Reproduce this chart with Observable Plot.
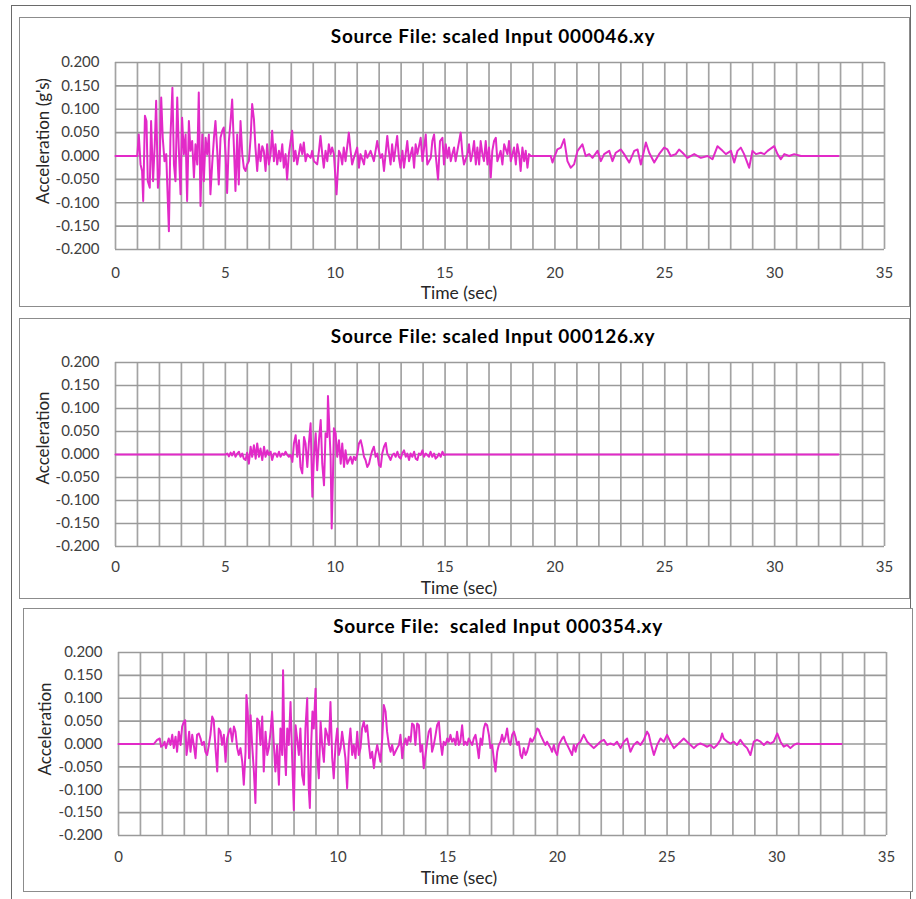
<!DOCTYPE html>
<html>
<head>
<meta charset="utf-8">
<script src="https://cdn.jsdelivr.net/npm/d3@7"></script>
<script src="https://cdn.jsdelivr.net/npm/@observablehq/plot@0.6"></script>
<style>
  html, body { margin: 0; padding: 0; background: #fff; }
  body { width: 916px; height: 899px; position: relative; overflow: hidden; font-family: Lato, "Open Sans", sans-serif; }
  .outer { position: absolute; left: 11px; top: 5px; width: 900px; height: 910px; border: 1px solid #6a6a6a; box-sizing: border-box; }
  .box { position: absolute; border: 1.5px solid #8c8c8c; box-sizing: border-box; background: #fff; }
  .chart { position: absolute; }
  .title { position: absolute; font-weight: bold; font-size: 19px; letter-spacing: 0.7px; line-height: 1; color: #000; transform: translateX(-50%); white-space: pre; }
  .xlab { position: absolute; font-size: 17.5px; line-height: 1; color: #262626; transform: translateX(-50%); white-space: pre; }
  .ylab { position: absolute; font-size: 17px; line-height: 1; color: #262626; transform: translate(-50%, -50%) rotate(-90deg); white-space: pre; }
</style>
</head>
<body>
<div class="outer"></div>
<div id="root"></div>
<script>
// ---------- data (time in sec, acceleration in g) ----------
const titles = ["Source File: scaled Input 000046.xy", "Source File: scaled Input 000126.xy", "Source File:  scaled Input 000354.xy"];
const yTitles = ["Acceleration (g's)", "Acceleration", "Acceleration"];
const xTitle = "Time (sec)";
const xTicks = [0, 5, 10, 15, 20, 25, 30, 35];
const yTicks = [-0.2, -0.15, -0.1, -0.05, 0, 0.05, 0.1, 0.15, 0.2];

const acc046 = [
[0,0],[0.99,0],[1.06,0.046],[1.14,-0.018],[1.21,-0.032],[1.26,-0.096],[1.34,0.086],[1.41,0.075],[1.47,-0.054],[1.56,-0.068],[1.62,0.075],[1.71,-0.054],[1.79,0.029],[1.85,0.118],[1.93,-0.068],[2.00,-0.039],[2.08,0.125],[2.15,0.039],[2.23,-0.011],[2.31,0.004],[2.35,-0.054],[2.43,-0.161],[2.50,0.039],[2.59,0.146],[2.66,-0.018],[2.73,-0.054],[2.81,0.125],[2.88,0.018],[2.96,-0.082],[3.03,0.082],[3.11,0.004],[3.19,0.046],[3.26,-0.096],[3.34,0.075],[3.41,0.011],[3.49,0.032],[3.57,-0.046],[3.64,0.025],[3.72,-0.018],[3.79,0.136],[3.87,-0.107],[3.95,0.046],[4.02,-0.054],[4.10,0.039],[4.17,0.004],[4.25,0.046],[4.32,-0.082],[4.40,-0.018],[4.48,0.039],[4.55,0.075],[4.63,0.011],[4.70,-0.061],[4.78,0.039],[4.86,0.054],[4.93,0.061],[5.01,0.004],[5.08,-0.079],[5.16,0.032],[5.24,0.075],[5.31,0.121],[5.39,0.018],[5.46,-0.075],[5.54,0.046],[5.61,-0.061],[5.69,0.075],[5.77,0.004],[5.84,-0.025],[5.92,-0.032],[5.99,-0.018],[6.07,-0.011],[6.15,0.039],[6.22,0.111],[6.30,0.079],[6.37,0.018],[6.45,-0.032],[6.53,0.025],[6.60,-0.011],[6.68,0.021],[6.75,0.011],[6.83,-0.032],[6.90,0.025],[6.98,-0.018],[7.06,0.004],[7.13,0.054],[7.21,-0.011],[7.28,0.025],[7.36,-0.018],[7.44,0.011],[7.51,-0.011],[7.59,0.025],[7.66,-0.025],[7.74,0.004],[7.81,-0.050],[7.89,0.004],[7.97,0.032],[8.04,0.054],[8.12,-0.011],[8.19,0.011],[8.27,-0.018],[8.42,0.025],[8.50,0.004],[8.57,0.029],[8.65,-0.011],[8.73,0.004],[8.88,-0.004],[8.95,0.011],[9.03,-0.011],[9.18,-0.018],[9.26,0.011],[9.33,0.043],[9.41,0.004],[9.48,-0.025],[9.56,0.011],[9.64,-0.011],[9.71,0.025],[9.79,0.004],[9.86,0.018],[9.94,0.004],[10.06,-0.082],[10.17,0.011],[10.24,0.004],[10.32,-0.018],[10.39,0.018],[10.47,-0.011],[10.62,0.050],[10.70,0.011],[10.77,-0.018],[10.85,-0.004],[11.00,0.018],[11.08,-0.025],[11.15,0.004],[11.31,-0.018],[11.38,0.011],[11.46,-0.004],[11.61,0.011],[11.76,-0.011],[11.91,0.032],[11.99,0.011],[12.06,-0.004],[12.14,0.004],[12.22,-0.032],[12.37,0.043],[12.44,0.011],[12.52,-0.018],[12.59,0.025],[12.67,-0.011],[12.75,0.018],[12.82,0.043],[12.90,-0.004],[12.97,-0.025],
[13.06,0.011],[13.13,-0.025],[13.28,0.032],[13.36,-0.011],[13.51,0.018],[13.59,-0.025],[13.66,0.025],[13.74,0.004],[13.89,0.039],[13.97,-0.011],[14.12,0.046],[14.19,-0.018],[14.35,-0.004],[14.42,0.032],[14.50,0.046],[14.57,0.004],[14.68,-0.050],[14.77,0.032],[14.88,0.039],[14.95,-0.018],[15.03,0.025],[15.11,-0.004],[15.18,0.018],[15.26,-0.011],[15.33,0.004],[15.41,0.018],[15.48,-0.011],[15.56,0.011],[15.71,0.050],[15.79,0.004],[15.86,-0.018],[16.02,0.004],[16.09,0.025],[16.17,-0.011],[16.24,0.004],[16.32,0.032],[16.40,-0.018],[16.47,0.018],[16.55,-0.018],[16.62,0.032],[16.70,0.004],[16.77,-0.011],[16.85,0.032],[16.93,-0.018],[17.00,0.018],[17.08,-0.046],[17.15,0.011],[17.23,0.032],[17.31,0.039],[17.38,-0.011],[17.53,0.011],[17.61,-0.018],[17.69,0.025],[17.84,0.004],[17.91,0.032],[17.99,-0.011],[18.14,0.018],[18.22,-0.018],[18.29,0.025],[18.37,0.004],[18.44,-0.032],[18.52,0.018],[18.60,-0.011],[18.67,0.011],[18.75,-0.025],[18.82,0.004],[18.90,0],[19.81,0],
[19.89,-0.014],[19.96,-0.004],[20.11,0.014],[20.27,0.018],[20.42,0.036],[20.57,-0.011],[20.72,-0.025],[20.87,-0.018],[21.03,0.011],[21.25,0.025],[21.40,0],[21.56,0.004],[21.71,-0.004],[21.94,0.011],[22.09,-0.011],[22.24,0.004],[22.47,0.011],[22.62,-0.011],[22.77,0.007],[23.00,0.014],[23.15,0.004],[23.38,-0.014],[23.61,0.011],[23.76,0.014],[23.91,-0.018],[24.14,0.029],[24.29,0.007],[24.52,-0.014],[24.74,0.004],[24.97,0.018],[25.12,0.014],[25.27,0],[25.50,0.004],[25.65,0.014],[25.81,0.007],[26.03,-0.004],[26.34,0.004],[26.64,-0.004],[26.95,0],[27.17,-0.007],[27.40,0.021],[27.63,0.011],[27.78,0.004],[28.01,0.011],[28.16,-0.014],[28.31,0.011],[28.46,0.018],[28.61,0.004],[28.84,-0.025],[28.99,0.011],[29.15,0.004],[29.37,0.007],[29.53,0.004],[29.68,0.011],[29.98,0.021],[30.13,0.004],[30.28,-0.007],[30.44,0.004],[30.66,0],[30.89,0.004],[31.20,0],[32.90,0]
];

const acc126 = [
[0,0],[5.01,0],[5.09,0.002],[5.16,-0.004],[5.24,0.004],[5.31,-0.002],[5.39,0.006],[5.46,-0.005],[5.54,0.002],[5.62,0.006],[5.69,-0.005],[5.77,0.002],[5.84,-0.009],[5.92,-0.012],[5.99,0.004],[6.07,-0.020],[6.15,0.017],[6.22,-0.005],[6.30,0.020],[6.38,-0.009],[6.45,0.024],[6.53,-0.005],[6.60,0.013],[6.68,-0.012],[6.76,0.017],[6.83,-0.005],[6.91,0.009],[6.98,-0.001],[7.06,0.006],[7.13,-0.012],[7.21,0.002],[7.29,0.002],[7.36,-0.005],[7.44,0.006],[7.51,-0.005],[7.59,0.002],[7.67,-0.001],[7.74,0.006],[7.82,-0.001],[7.89,-0.005],[7.97,-0.001],[8.05,-0.016],[8.12,0.024],[8.20,0.042],[8.27,-0.005],[8.35,0.031],[8.42,-0.027],[8.50,-0.041],[8.58,0.038],[8.65,0.024],[8.73,-0.027],[8.80,0.024],[8.88,0.068],[8.96,-0.092],[9.03,-0.005],[9.11,0.046],[9.18,-0.034],[9.26,0.031],[9.34,0.075],[9.41,-0.020],[9.49,-0.067],[9.56,0.046],[9.64,0.038],[9.67,0.127],[9.79,-0.005],[9.84,-0.161],[9.90,-0.041],[9.94,0.057],[10.02,0.046],[10.09,-0.005],[10.17,0.031],[10.25,-0.020],[10.32,0.024],[10.40,-0.027],[10.47,0.009],[10.55,-0.020],[10.63,-0.012],[10.70,-0.005],[10.78,-0.020],[10.85,-0.005],[10.93,-0.012],[11.01,0.002],[11.08,0.024],[11.16,0.031],[11.23,0.017],[11.31,-0.005],[11.38,-0.012],[11.46,-0.027],[11.54,-0.020],[11.61,-0.005],[11.69,0.009],[11.76,0.017],[11.84,-0.005],[11.92,0.002],[11.99,-0.023],[12.07,-0.027],[12.14,0.002],[12.22,0.017],[12.30,0.025],[12.37,0.002],[12.45,-0.005],[12.52,-0.012],[12.60,-0.001],[12.68,0.002],[12.75,-0.005],[12.83,0.006],[12.90,-0.005],[12.98,-0.009],[13.05,0.002],[13.13,0.009],[13.21,-0.005],[13.28,0.002],[13.36,-0.012],[13.43,0.002],[13.51,-0.005],[13.59,0.006],[13.66,-0.009],[13.74,-0.012],[13.81,0.002],[13.89,-0.001],[13.97,0.009],[14.04,-0.005],[14.12,0.002],[14.19,-0.001],[14.27,-0.005],[14.34,0.006],[14.42,-0.005],[14.50,0.002],[14.57,-0.009],[14.65,-0.005],[14.72,0.002],[14.80,-0.005],[14.88,0.006],[14.95,-0.001],[15.03,0],[32.90,0]
];

const acc354 = [
[0,0],[1.61,0],[1.76,0.009],[1.88,0.012],[1.94,-0.006],[2.04,-0.002],[2.10,0.005],[2.16,-0.009],[2.22,0.001],[2.29,0.012],[2.37,-0.002],[2.45,0.020],[2.52,-0.009],[2.60,0.016],[2.67,-0.017],[2.75,0.027],[2.83,-0.002],[2.90,0.038],[2.98,0.049],[3.04,0.052],[3.10,-0.024],[3.16,-0.002],[3.22,0.027],[3.28,-0.017],[3.36,0.020],[3.43,-0.002],[3.51,-0.031],[3.58,0.020],[3.66,0.023],[3.74,0.012],[3.81,-0.002],[3.89,0.005],[3.96,-0.017],[4.04,-0.024],[4.12,-0.002],[4.19,0.020],[4.27,0.060],[4.34,0.052],[4.42,-0.009],[4.50,-0.060],[4.57,0.034],[4.65,0.027],[4.72,-0.002],[4.80,0.020],[4.88,-0.039],[4.95,0.012],[5.03,0.027],[5.10,0.034],[5.18,0.005],[5.26,0.038],[5.33,0.027],[5.41,-0.009],[5.48,-0.024],[5.56,-0.009],[5.64,-0.039],[5.71,-0.089],[5.79,-0.017],[5.83,0.107],[5.89,0.071],[5.95,-0.031],[6.02,0.063],[6.09,-0.002],[6.17,-0.060],[6.24,-0.129],[6.32,0.056],[6.40,0.049],[6.47,-0.002],[6.55,0.060],[6.62,-0.060],[6.70,0.027],[6.78,-0.024],[6.85,-0.009],[6.93,0.027],[7.00,0.071],[7.08,-0.002],[7.15,-0.060],[7.23,-0.002],[7.31,-0.089],[7.38,0.034],[7.46,-0.024],[7.50,0.161],[7.56,-0.002],[7.63,-0.068],[7.69,0.034],[7.76,-0.002],[7.84,0.092],[7.91,-0.024],[7.99,-0.144],[8.07,0.041],[8.14,0.012],[8.22,-0.024],[8.29,0.034],[8.37,-0.068],[8.45,-0.089],[8.52,0.034],[8.60,0.100],[8.67,-0.097],[8.72,-0.140],[8.78,-0.002],[8.84,0.071],[8.90,0.034],[8.98,0.121],[9.05,-0.024],[9.13,-0.075],[9.21,0.049],[9.28,-0.002],[9.36,-0.039],[9.43,0.034],[9.51,0.020],[9.59,-0.002],[9.66,0.092],[9.74,-0.031],[9.81,-0.075],[9.89,-0.002],[9.97,0.034],[10.04,-0.024],[10.12,-0.009],[10.19,0.027],[10.27,-0.002],[10.34,-0.031],[10.42,-0.097],[10.50,-0.002],[10.57,0.034],[10.65,-0.024],[10.72,-0.002],[10.80,-0.031],[10.88,0.027],[10.95,-0.024],[11.03,-0.009],[11.10,0.034],[11.18,0.049],[11.26,0.027],[11.33,0.041],[11.41,-0.002],[11.48,-0.031],[11.56,-0.017],[11.64,-0.053],[11.71,-0.024],[11.79,-0.002],[11.94,-0.039],[12.02,0.012],[12.09,0.085],[12.17,0.071],[12.24,0.027],[12.32,-0.002],[12.40,-0.017],[12.47,-0.002],[12.55,-0.024],[12.62,-0.017],[12.70,-0.009],[12.78,-0.002],[12.85,0.020],
[12.93,-0.031],[13.00,-0.002],[13.08,0.012],[13.15,-0.002],[13.23,0.016],[13.31,0.005],[13.38,0.045],[13.46,0.041],[13.53,-0.002],[13.61,0.045],[13.69,0.041],[13.76,-0.017],[13.84,-0.002],[13.91,-0.053],[13.99,-0.024],[14.07,0.005],[14.14,0.027],[14.22,0.034],[14.29,-0.017],[14.37,-0.002],[14.45,0.020],[14.52,0.041],[14.60,0.049],[14.67,0.005],[14.75,-0.024],[14.82,0.005],[14.90,-0.002],[14.98,0.012],[15.05,0.005],[15.13,0.020],[15.20,0.005],[15.28,0.012],[15.36,-0.002],[15.43,0.027],[15.51,-0.002],[15.58,0.005],[15.66,0.041],[15.74,-0.002],[15.81,0.005],[15.89,-0.002],[15.96,0.012],[16.04,0.005],[16.12,-0.002],[16.19,0.012],[16.27,0.020],[16.34,-0.002],[16.42,-0.031],[16.50,0.012],[16.57,-0.002],[16.65,0.034],[16.72,0.045],[16.80,0.041],[16.88,0.020],[16.95,-0.009],[17.03,-0.002],[17.10,-0.031],[17.18,-0.060],[17.26,-0.017],[17.33,-0.002],[17.41,0.005],[17.48,0.020],[17.56,0.005],[17.64,0.016],[17.71,0.034],[17.79,0.005],[17.86,-0.002],[17.94,0.020],[18.02,0.027],[18.09,0.016],[18.17,-0.002],[18.24,0.005],[18.32,-0.024],[18.39,-0.031],[18.47,-0.009],[18.55,-0.024],[18.62,-0.017],[18.70,-0.002],[18.77,0.012],[18.85,0.005],[18.93,0.012],[19.00,0.020],[19.08,0.034],[19.15,0.031],[19.23,0.020],[19.31,0.012],[19.38,0.005],[19.46,-0.002],[19.53,0.005],[19.61,-0.002],[19.69,-0.009],[19.76,-0.017],[19.84,-0.002],[19.91,-0.017],[19.99,-0.024],[20.07,-0.002],[20.14,0.005],[20.22,0.012],[20.29,0.016],[20.37,0.005],[20.45,-0.002],[20.52,-0.009],[20.60,-0.017],[20.67,-0.024],[20.75,-0.002],[20.83,-0.017],[20.90,-0.002],[21.05,0.005],[21.20,0.020],[21.36,0.005],[21.51,-0.002],[21.66,-0.009],[21.81,-0.002],[21.96,0.005],[22.12,0.009],[22.27,-0.002],[22.42,0.001],[22.57,-0.002],[22.72,0.005],[22.88,-0.009],[23.03,0.005],[23.18,0.012],[23.33,-0.017],[23.48,-0.002],[23.64,0.005],[23.79,-0.002],[23.94,0.009],[24.09,0.027],[24.17,0.020],[24.24,0.005],[24.40,-0.024],[24.55,-0.002],[24.70,0.012],[24.85,0.005],[25.00,0.020],[25.15,0.005],[25.31,-0.009],[25.46,-0.002],[25.61,0.005],[25.76,0.012],[25.91,0.005],[26.07,-0.002],[26.22,-0.009],[26.37,-0.002],[26.52,0.001],[26.67,-0.002],[26.83,-0.006],[26.98,-0.002],[27.13,-0.009],[27.28,-0.002],[27.43,0.009],[27.51,0.023],[27.58,0.012],[27.74,0.005],[27.89,0.001],[28.04,0.005],[28.19,-0.002],[28.34,0.009],[28.50,-0.002],[28.65,-0.009],[28.80,-0.024],[28.95,0.005],[29.10,0.009],[29.26,0.005],[29.41,-0.002],[29.56,0.005],[29.71,0.001],[29.86,0.005],[30.02,0.023],[30.17,0.005],[30.32,-0.006],[30.47,-0.002],[30.62,-0.009],[30.78,-0.002],[30.93,0.001],[31.08,0],[32.95,0]
];

// ---------- layout (pixel boxes for each panel) ----------
const panels = [
  { data: acc046, title: titles[0], yTitle: yTitles[0],
    box: {l: 19, t: 17, w: 891, h: 290}, m: {l: 96, r: 26, t: 45, b: 58}, xPad: 18,
    titlePos: {x: 493, y: 26}, xlabPos: {x: 459, y: 284}, ylabPos: {x: 42, y: 141} },
  { data: acc126, title: titles[1], yTitle: yTitles[1],
    box: {l: 19, t: 318, w: 891, h: 281}, m: {l: 96, r: 26, t: 44, b: 53}, xPad: 15,
    titlePos: {x: 493, y: 326}, xlabPos: {x: 459, y: 579}, ylabPos: {x: 42, y: 438} },
  { data: acc354, title: titles[2], yTitle: yTitles[2],
    box: {l: 23, t: 608, w: 890, h: 284}, m: {l: 95, r: 27, t: 44, b: 57}, xPad: 16,
    titlePos: {x: 498, y: 616}, xlabPos: {x: 459, y: 869}, ylabPos: {x: 44, y: 729} }
];

const gridX = d3.range(0, 36, 1);
const root = document.getElementById("root");

for (const p of panels) {
  const box = document.createElement("div");
  box.className = "box";
  Object.assign(box.style, {left: p.box.l + "px", top: p.box.t + "px", width: p.box.w + "px", height: p.box.h + "px"});
  root.appendChild(box);

  const chart = Plot.plot({
    width: p.box.w,
    height: p.box.h,
    marginLeft: p.m.l, marginRight: p.m.r, marginTop: p.m.t, marginBottom: p.m.b,
    style: {fontFamily: "Lato, 'Open Sans', sans-serif", fontSize: "15px", color: "#404040", background: "transparent", overflow: "visible"},
    x: {domain: [0, 35]},
    y: {domain: [-0.2, 0.2]},
    marks: [
      Plot.ruleX(gridX, {stroke: "#a3a3a3", strokeWidth: 1.7}),
      Plot.ruleY(yTicks, {stroke: "#9a9a9a", strokeWidth: 1.7}),
      Plot.line(p.data, {x: d => d[0], y: d => d[1], stroke: "#e22ac8", strokeWidth: 2, strokeLinejoin: "round"}),
      Plot.axisX({ticks: xTicks, tickSize: 0, tickPadding: p.xPad, label: null, tickFormat: d => String(d), fill: "#404040"}),
      Plot.axisY({ticks: yTicks, tickSize: 0, tickPadding: 16, label: null, tickFormat: d => d.toFixed(3), fill: "#404040"})
    ]
  });
  chart.classList.add("chart");
  Object.assign(chart.style, {left: p.box.l + "px", top: p.box.t + "px"});
  root.appendChild(chart);

  const t = document.createElement("div");
  t.className = "title"; t.textContent = p.title;
  Object.assign(t.style, {left: p.titlePos.x + "px", top: p.titlePos.y + "px"});
  root.appendChild(t);

  const xl = document.createElement("div");
  xl.className = "xlab"; xl.textContent = xTitle;
  Object.assign(xl.style, {left: p.xlabPos.x + "px", top: p.xlabPos.y + "px"});
  root.appendChild(xl);

  const yl = document.createElement("div");
  yl.className = "ylab"; yl.textContent = p.yTitle;
  Object.assign(yl.style, {left: p.ylabPos.x + "px", top: p.ylabPos.y + "px"});
  root.appendChild(yl);
}
</script>
</body>
</html>
